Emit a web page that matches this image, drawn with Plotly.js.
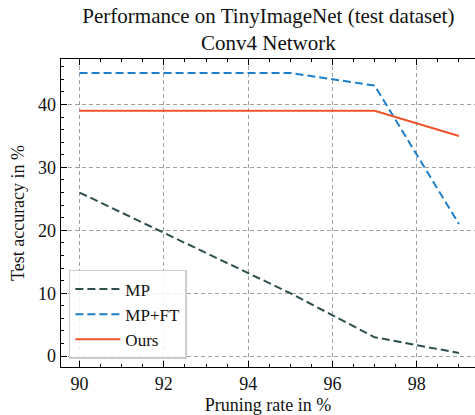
<!DOCTYPE html>
<html>
<head>
<meta charset="utf-8">
<script src="https://cdn.plot.ly/plotly-3.0.1.min.js"></script>
<style>html,body{margin:0;padding:0;background:#fff;}#chart{width:475px;height:415px;}</style>
</head>
<body>
<div id="chart"></div>
<script>
const pruningRate = [90, 95, 97, 99];
const mpValues = [26, 10, 3, 0.5];
const mpftValues = [45, 45, 43, 21];
const oursValues = [39, 39, 39, 35];
const seriesNames = ["MP", "MP+FT", "Ours"];
const xTicks = [90, 92, 94, 96, 98];
const yTicks = [0, 10, 20, 30, 40];

const font = "Liberation Serif";
const traces = [
  {x: pruningRate, y: mpValues, name: seriesNames[0], mode: "lines",
   line: {color: "#2F4F4F", width: 2, dash: "8px,4px"}},
  {x: pruningRate, y: mpftValues, name: seriesNames[1], mode: "lines",
   line: {color: "#1C7ECA", width: 2, dash: "8px,4px"}},
  {x: pruningRate, y: oursValues, name: seriesNames[2], mode: "lines",
   line: {color: "#F0532D", width: 2}}
];
const axisCommon = {
  showline: true, linecolor: "#000", linewidth: 1.3,
  ticks: "inside", ticklen: 6, tickwidth: 1, tickcolor: "#000",
  showgrid: true, gridcolor: "#8a8a8a", gridwidth: 0.8, griddash: "4px,3px",
  zeroline: false, tickfont: {family: font, size: 18, color: "#111"}
};
const layout = {
  width: 475, height: 415,
  margin: {l: 61, r: 0, t: 59, b: 48},
  paper_bgcolor: "#fff", plot_bgcolor: "#fff",
  font: {family: font, color: "#111"},
  title: {text: "Performance on TinyImageNet (test dataset)<br>Conv4 Network",
          font: {family: font, size: 21, color: "#111"},
          x: 0.565, xanchor: "center", yref: "container", y: 0.945, yanchor: "bottom"},
  xaxis: Object.assign({}, axisCommon, {
    range: [89.56, 99.38], tickvals: xTicks, ticktext: xTicks.map(String),
    mirror: "allticks",
    minor: {dtick: 0.5, tick0: 90, ticks: "inside", ticklen: 3, tickcolor: "#000", showgrid: false},
    title: {text: "Pruning rate in %", font: {family: font, size: 18, color: "#111"}, standoff: 6}
  }),
  yaxis: Object.assign({}, axisCommon, {
    range: [-1.725, 47.225], tickvals: yTicks, ticktext: yTicks.map(String),
    minor: {dtick: 2, tick0: 0, ticks: "inside", ticklen: 3, tickcolor: "#000", showgrid: false},
    title: {text: "Test accuracy in %", font: {family: font, size: 18, color: "#111"}, standoff: 8}
  }),
  legend: {x: 0.019, y: 0.026, xanchor: "left", yanchor: "bottom",
           bgcolor: "rgba(255,255,255,0.85)", bordercolor: "#cccccc", borderwidth: 1.5,
           itemwidth: 45,
           font: {family: font, size: 17, color: "#111"}, tracegroupgap: 0},
  showlegend: true
};
Plotly.newPlot("chart", traces, layout, {staticPlot: true, displayModeBar: false});
</script>
</body>
</html>
